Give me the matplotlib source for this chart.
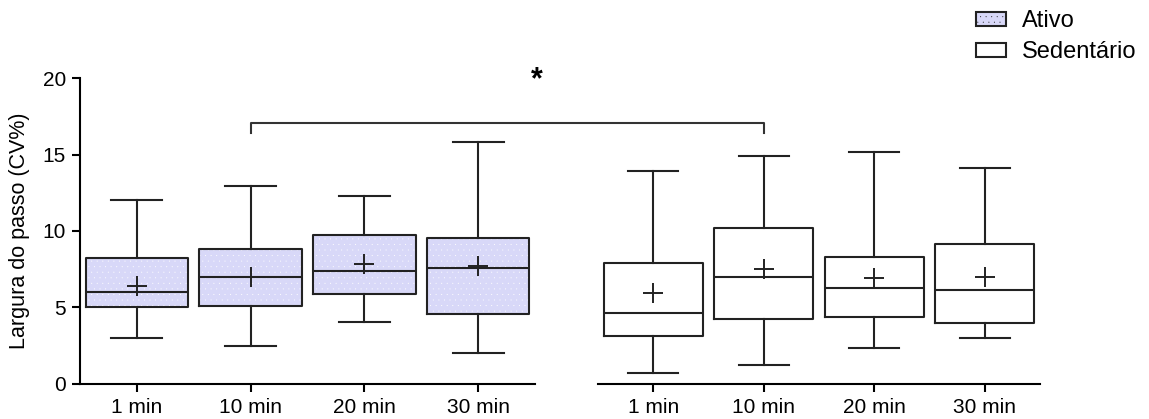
import matplotlib
matplotlib.use("Agg")
import matplotlib.pyplot as plt
from matplotlib.patches import Patch
from matplotlib.lines import Line2D

plt.rcParams["font.family"] = ["Liberation Sans", "DejaVu Sans"]
plt.rcParams["hatch.linewidth"] = 0.0

# Data (CV% of step width)
times = ["1 min", "10 min", "20 min", "30 min"]

ativo_whislo = [3.0, 2.5, 4.05, 2.0]
ativo_q1 = [5.0, 5.1, 5.85, 4.55]
ativo_med = [5.98, 7.0, 7.38, 7.57]
ativo_q3 = [8.2, 8.8, 9.73, 9.55]
ativo_whishi = [12.0, 12.95, 12.3, 15.8]
ativo_mean = [6.4, 6.98, 7.85, 7.72]

sed_whislo = [0.73, 1.2, 2.35, 3.0]
sed_q1 = [3.1, 4.23, 4.34, 3.96]
sed_med = [4.6, 7.0, 6.24, 6.13]
sed_q3 = [7.92, 10.2, 8.31, 9.16]
sed_whishi = [13.93, 14.9, 15.15, 14.1]
sed_mean = [5.91, 7.48, 6.9, 7.0]

W, H = 1149, 419
fig = plt.figure(figsize=(W / 100, H / 100), dpi=100)
ax1 = fig.add_axes([80 / W, 1 - 383.7 / H, 455 / W, 305.4 / H])
ax2 = fig.add_axes([598 / W, 1 - 383.7 / H, 442 / W, 305.4 / H])

lavender = "#d8d8f8"
lw = 1.5


def make_stats(lo, q1, med, q3, hi, mean):
    return [dict(whislo=a, q1=b, med=c, q3=d, whishi=e, mean=f, fliers=[])
            for a, b, c, d, e, f in zip(lo, q1, med, q3, hi, mean)]


def draw_group(ax, stats, filled):
    pos = list(range(len(stats)))
    if filled:
        ax.bar(pos, [s["q3"] - s["q1"] for s in stats], bottom=[s["q1"] for s in stats],
               width=0.9, color=lavender, edgecolor="white", hatch="...",
               linewidth=0, zorder=1)
    line = dict(color="#222222", linewidth=lw)
    ax.bxp(stats, positions=pos, widths=0.9, showmeans=True, showfliers=False,
           boxprops=line, whiskerprops=line, capprops=line, medianprops=line,
           capwidths=0.45,
           meanprops=dict(marker="+", markersize=14, markeredgewidth=1.4,
                          markeredgecolor="#222222"),
           manage_ticks=False, zorder=2)
    ax.set_xticks(pos)
    ax.set_xticklabels(times, fontsize=15)
    ax.set_xlim(-0.5, 3.5)
    ax.set_ylim(0, 20)
    for s in ["top", "right"]:
        ax.spines[s].set_visible(False)
    ax.spines["bottom"].set_linewidth(lw)
    ax.spines["left"].set_linewidth(lw)
    ax.tick_params(axis="both", width=lw, length=6, labelsize=15, pad=4)


draw_group(ax1, make_stats(ativo_whislo, ativo_q1, ativo_med, ativo_q3, ativo_whishi, ativo_mean), True)
draw_group(ax2, make_stats(sed_whislo, sed_q1, sed_med, sed_q3, sed_whishi, sed_mean), False)

ax1.set_yticks([0, 5, 10, 15, 20])
ax1.set_ylabel("Largura do passo (CV%)", fontsize=15.5, labelpad=9)
ax2.spines["left"].set_visible(False)
ax2.set_yticks([])

# significance bracket between the two 10 min boxes
inv = fig.transFigure.inverted()
xl, yt = inv.transform(ax1.transData.transform((1, 17.1)))
_, yb = inv.transform(ax1.transData.transform((1, 16.4)))
xr, _ = inv.transform(ax2.transData.transform((1, 17.1)))
fig.add_artist(Line2D([xl, xl, xr, xr], [yb, yt, yt, yb], color="#333333",
                      linewidth=lw, transform=fig.transFigure))
fig.text(537 / W, 1 - 80 / H, "*", fontsize=22, fontweight="bold",
         ha="center", va="center")

handles = [Patch(facecolor=lavender, edgecolor="#222222", hatch="...", linewidth=lw),
           Patch(facecolor="white", edgecolor="#222222", linewidth=lw)]
fig.legend(handles, ["Ativo", "Sedentário"], loc="upper left",
           bbox_to_anchor=(976 / W, 1 - 10 / H), frameon=False, fontsize=17,
           handlelength=1.25, handleheight=0.55, handletextpad=0.7,
           labelspacing=0.4, borderpad=0, borderaxespad=0)

fig.savefig("out.png", dpi=100)
